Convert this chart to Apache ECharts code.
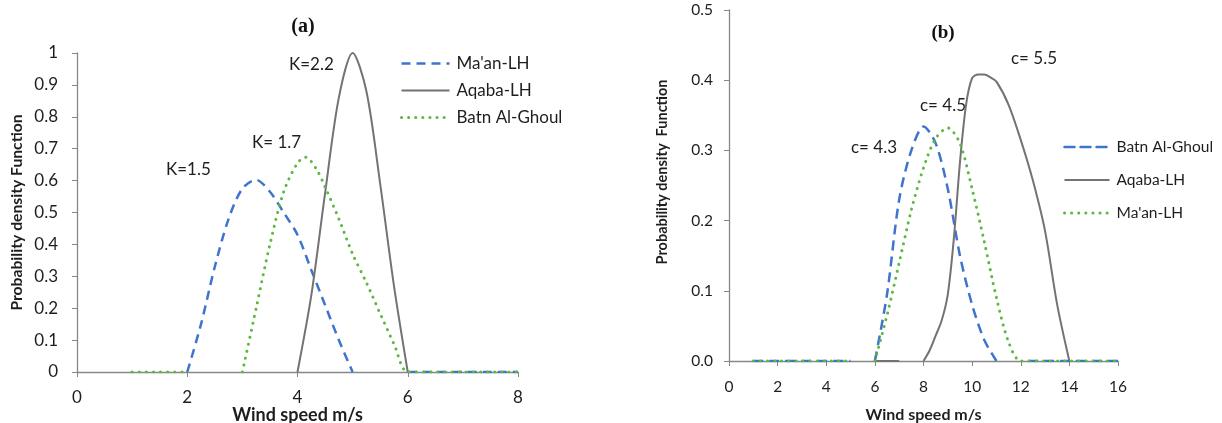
<!DOCTYPE html>
<html>
<head>
<meta charset="utf-8">
<script src="https://cdn.jsdelivr.net/npm/echarts@6/dist/echarts.min.js"></script>
<style>
    html, body { margin: 0; padding: 0; background: #fff; }
    #chart { width: 1222px; height: 423px; }
</style>
</head>
<body>
<div id="chart"></div>
<script>
// chart (a): [wind speed, pdf]; '-' breaks the line where the source line stops
const maanA = [[2, 0], [2.25, 0.15], [2.5, 0.33], [2.75, 0.48], [3, 0.575], [3.25, 0.602], [3.5, 0.565], [3.75, 0.5], [4, 0.43], [4.25, 0.32], [4.5, 0.21], [4.75, 0.1], [5, 0], [5.5, '-'], [6, 0], [6.5, 0], [7, 0], [7.5, 0], [8, 0]]
const aqabaA = [[4, 0], [4.25, 0.24], [4.5, 0.56], [4.75, 0.86], [5, 1], [5.25, 0.88], [5.5, 0.59], [5.75, 0.27], [6, 0]]
const batnA = [[1, 0], [1.5, 0], [2, 0], [2.5, '-'], [3, 0], [3.25, 0.2], [3.5, 0.4], [3.75, 0.565], [4, 0.655], [4.15, 0.673], [4.35, 0.634], [4.5, 0.58], [4.75, 0.48], [5, 0.37], [5.25, 0.28], [5.5, 0.183], [5.75, 0.088], [6, 0], [6.5, 0], [7, 0], [7.5, 0], [8, 0]]

// chart (b)
const batnB = [[1, 0], [2, 0], [3, 0], [4, 0], [5, 0], [5.5, '-'], [6, 0], [6.5, 0.095], [7, 0.23], [7.5, 0.3], [8, 0.334], [8.5, 0.31], [9, 0.245], [9.5, 0.15], [10, 0.08], [10.5, 0.03], [11, 0], [11.5, '-'], [12.3, 0], [13, 0], [14, 0], [15, 0], [16, 0]]
const aqabaB = [[6, 0], [7, 0], [7.5, '-'], [8, 0], [8.25, 0.015], [8.5, 0.036], [8.75, 0.058], [9, 0.095], [9.25, 0.175], [9.5, 0.283], [9.75, 0.365], [10, 0.403], [10.25, 0.408], [10.5, 0.408], [10.75, 0.404], [11, 0.398], [11.5, 0.365], [12, 0.315], [12.5, 0.257], [13, 0.185], [13.5, 0.08], [14, 0]]
const maanB = [[1, 0], [2, 0], [3, 0], [4, 0], [5, 0], [5.5, '-'], [6, 0], [6.5, 0.065], [7, 0.14], [7.5, 0.215], [8, 0.275], [8.5, 0.317], [9, 0.332], [9.5, 0.31], [10, 0.245], [10.5, 0.17], [11, 0.09], [11.5, 0.027], [12, 0], [13, 0], [14, 0], [15, 0], [16, 0]]

const annotA = [['K=1.5', 166, 170], ['K= 1.7', 252, 143], ['K=2.2', 289, 65]]
const annotB = [['c= 4.3', 851, 148], ['c= 4.5', 920, 106], ['c= 5.5', 1011, 59]]

const FONT = 'Lato'
const BLUE = '#3f74cc'
const GRAY = '#737373'
const GREEN = '#5cb83e'
const AXIS = '#878787'
const TEXT = '#1e1e1e'

const dashed = { color: BLUE, width: 2.5, type: [9, 6] }
const dashedB = { color: BLUE, width: 2.5, type: [10, 6] }
const solid = { color: GRAY, width: 2, type: 'solid' }
const dotted = { color: GREEN, width: 3, type: [0.1, 7], cap: 'round' }

function axisBase(extra) {
    return Object.assign({
        type: 'value',
        nameMoveOverlap: false,
        axisLine: { lineStyle: { color: AXIS, width: 1.3 } },
        axisTick: { show: true, length: 5, lineStyle: { color: AXIS } },
        splitLine: { show: false },
    }, extra)
}

function line(name, data, style, idx) {
    return {
        name: name,
        type: 'line',
        xAxisIndex: idx,
        yAxisIndex: idx,
        data: data,
        smooth: 0.3,
        symbol: 'none',
        connectNulls: false,
        lineStyle: style,
        itemStyle: { color: style.color },
        silent: true,
    }
}

function legendItem(name, style) {
    return { name: name, lineStyle: style, itemStyle: { color: style.color, opacity: 0 } }
}

function annot(list, size) {
    return list.map(a => ({
        type: 'text',
        x: a[1],
        y: a[2],
        style: { text: a[0], font: size + 'px ' + FONT, fill: TEXT, verticalAlign: 'middle' },
    }))
}

const option = {
    animation: false,
    grid: [
        { left: 77, top: 53, width: 441, height: 319, outerBoundsMode: 'none', containLabel: false },
        { left: 729, top: 10, width: 389, height: 351, outerBoundsMode: 'none', containLabel: false },
    ],
    xAxis: [
        axisBase({
            gridIndex: 0, min: 0, max: 8, interval: 2,
            name: 'Wind speed m/s', nameLocation: 'middle', nameGap: 34,
            nameTextStyle: { color: TEXT, fontFamily: FONT, fontWeight: 'bold', fontSize: 18 },
            axisLabel: { color: TEXT, fontFamily: FONT, fontSize: 17, margin: 17 },
        }),
        axisBase({
            gridIndex: 1, min: 0, max: 16, interval: 2,
            name: 'Wind speed m/s', nameLocation: 'middle', nameGap: 46,
            nameTextStyle: { color: TEXT, fontFamily: FONT, fontWeight: 'bold', fontSize: 16 },
            axisLabel: { color: TEXT, fontFamily: FONT, fontSize: 15.5, margin: 18 },
        }),
    ],
    yAxis: [
        axisBase({
            gridIndex: 0, min: 0, max: 1, interval: 0.1,
            name: 'Probability density Function', nameLocation: 'middle', nameGap: 52,
            nameTextStyle: { color: TEXT, fontFamily: FONT, fontWeight: 'bold', fontSize: 15.7 },
            axisLabel: { color: TEXT, fontFamily: FONT, fontSize: 17, margin: 19 },
        }),
        axisBase({
            gridIndex: 1, min: 0, max: 0.5, interval: 0.1,
            axisLabel: { color: TEXT, fontFamily: FONT, fontSize: 15.5, margin: 16, formatter: v => v.toFixed(1) },
        }),
    ],
    legend: [
        {
            left: 400, top: 55, orient: 'vertical', padding: 0,
            itemWidth: 48, itemHeight: 14, itemGap: 10,
            selectedMode: false,
            textStyle: { color: TEXT, fontFamily: FONT, fontSize: 17, padding: [0, 0, 0, 2] },
            data: [legendItem("Ma'an-LH", dashed), legendItem('Aqaba-LH', solid), legendItem('Batn Al-Ghoul', dotted)],
        },
        {
            left: 1063, top: 139, orient: 'vertical', padding: 0,
            itemWidth: 45, itemHeight: 14, itemGap: 17,
            selectedMode: false,
            textStyle: { color: TEXT, fontFamily: FONT, fontSize: 15.5, padding: [0, 0, 0, 2] },
            data: [legendItem('Batn Al-Ghoul', dashedB), legendItem('Aqaba-LH', solid), legendItem("Ma'an-LH", dotted)],
        },
    ],
    graphic: [
        { type: 'text', x: 303, y: 27, style: { text: '(a)', font: 'bold 20px "Liberation Serif"', fill: '#111', align: 'center', verticalAlign: 'middle' } },
        { type: 'text', x: 943, y: 33, style: { text: '(b)', font: 'bold 19px "Liberation Serif"', fill: '#111', align: 'center', verticalAlign: 'middle' } },
        { type: 'text', x: 662, y: 172, rotation: Math.PI / 2, style: { text: 'Probability density  Function', font: 'bold 14.5px ' + FONT, fill: TEXT, align: 'center', verticalAlign: 'middle' } },
    ].concat(annot(annotA, 17), annot(annotB, 17)),
    series: [
        line("Ma'an-LH", maanA, dashed, 0),
        line('Aqaba-LH', aqabaA, solid, 0),
        line('Batn Al-Ghoul', batnA, dotted, 0),
        line('Batn Al-Ghoul', batnB, dashedB, 1),
        line('Aqaba-LH', aqabaB, solid, 1),
        line("Ma'an-LH", maanB, dotted, 1),
    ],
}

const chart = echarts.init(document.getElementById('chart'))
chart.setOption(option)
</script>
</body>
</html>
